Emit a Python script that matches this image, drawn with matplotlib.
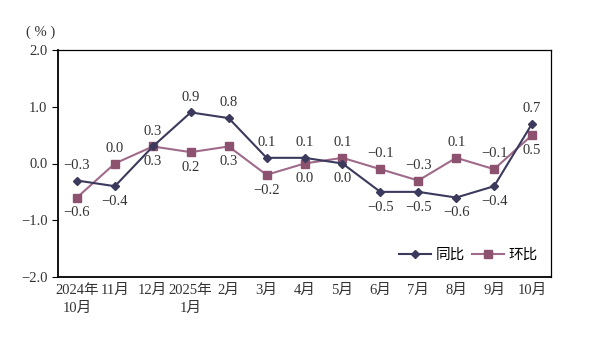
import numpy as np
import matplotlib
matplotlib.use("Agg")
import matplotlib.pyplot as plt

plt.rcParams['font.family'] = ['Liberation Serif', 'Noto Sans CJK SC', 'DejaVu Sans']
plt.rcParams['axes.unicode_minus'] = True

months = ["2024年\n10月", "11月", "12月", "2025年\n1月", "2月", "3月", "4月",
          "5月", "6月", "7月", "8月", "9月", "10月"]
yoy = [-0.3, -0.4, 0.3, 0.9, 0.8, 0.1, 0.1, 0.0, -0.5, -0.5, -0.6, -0.4, 0.7]
mom = [-0.6, 0.0, 0.3, 0.2, 0.3, -0.2, 0.0, 0.1, -0.1, -0.3, 0.1, -0.1, 0.5]
yticks = [-2.0, -1.0, 0.0, 1.0, 2.0]

c_yoy = "#3b3a5c"
c_mom = "#a06a8a"
c_mom_mk = "#8e5271"
fs = 10.5

fig = plt.figure(figsize=(5.9, 3.4), dpi=100)
ax = fig.add_axes([58/590, 1 - 277/340, 493/590, 227/340])

x = np.arange(len(months))
ax.plot(x, yoy, color=c_yoy, lw=1.5, marker="D", ms=4.5, mfc=c_yoy, mec=c_yoy, label="同比", zorder=3)
ax.plot(x, mom, color=c_mom, lw=1.5, marker="s", ms=6, mfc=c_mom_mk, mec=c_mom_mk, label="环比", zorder=2)

def fmt(v):
    s = "%.1f" % abs(v)
    return "\u2212" + s if v < 0 else s

for i in x:
    a, b = yoy[i], mom[i]
    yoy_up = a >= b
    ax.annotate(fmt(a), (i, a), xytext=(0, 11 if yoy_up else -11), textcoords="offset points",
                ha="center", va="center", fontsize=fs, color="#333333")
    ax.annotate(fmt(b), (i, b), xytext=(0, -11 if yoy_up else 11), textcoords="offset points",
                ha="center", va="center", fontsize=fs, color="#333333")

ax.set_xlim(-0.5, 12.5)
ax.set_ylim(-2.0, 2.0)
ax.set_yticks(yticks)
ax.set_yticklabels([fmt(v) for v in yticks])
ax.set_xticks(x)
ax.set_xticklabels(months, linespacing=1.5)
ax.tick_params(axis="x", length=0, pad=5, labelsize=fs, colors="#333333")
ax.tick_params(axis="y", length=4, direction="out", labelsize=fs, colors="#333333")
ax.tick_params(axis="y", color="black")
for s in ["left", "bottom"]:
    ax.spines[s].set_linewidth(1.3)
for s in ["top", "right"]:
    ax.spines[s].set_linewidth(0.9)

fig.text(26/590, 1 - 32/340, "( % )", fontsize=fs, va="center", color="#333333")

ax.legend(loc="lower right", bbox_to_anchor=(1.0, 0.01), ncol=2, frameon=False, fontsize=fs,
          handlelength=2.2, columnspacing=0.5, handletextpad=0.3)

fig.savefig("out.png", dpi=100)
